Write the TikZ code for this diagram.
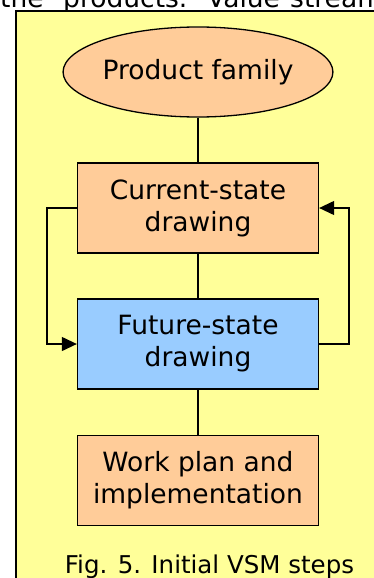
\documentclass[tikz,border=0pt]{standalone}
\usepackage{fontspec}
\setmainfont{DejaVu Sans}
\usetikzlibrary{arrows.meta,shapes.geometric}
\definecolor{panelyellow}{HTML}{FFFF99}
\definecolor{steporange}{HTML}{FFCC99}
\definecolor{stepblue}{HTML}{99CCFF}
\tikzset{
  stepbox/.style={draw=black, line width=1.3pt, fill=steporange,
    minimum width=241pt, minimum height=90pt, inner sep=0pt,
    align=center, font=\fontsize{26.5}{32}\selectfont},
  familyshape/.style={stepbox, ellipse, minimum width=242pt, minimum height=90pt},
  link/.style={draw=black, line width=1.2pt},
  loop/.style={link, -{Triangle[length=15pt,width=14pt]}},
  bodytext/.style={inner sep=0pt, font=\fontsize{26.5}{32}\selectfont},
}
\begin{document}
\begin{tikzpicture}[x=1pt,y=1pt]
  \useasboundingbox (0,0) rectangle (374,-578);
  \clip (0,0) rectangle (374,-578);
  % running text above the panel
  \node[bodytext, anchor=base west] (w1) at (0,-8) {the};
  \node[bodytext, anchor=base west] (w2) at (63,-8) {products.};
  \node[bodytext, anchor=base west] (w3) at (207,-8) {Value};
  \node[bodytext, anchor=base west] (w4) at (290,-8) {stream};
  % panel
  \draw[fill=panelyellow, line width=1.3pt] (16,-590) rectangle (390,-11);
  % steps
  \node[familyshape] (family) at (198,-72) {Product family};
  \node[stepbox] (current) at (198,-208) {Current-state\\drawing};
  \node[stepbox, fill=stepblue] (future) at (198,-344) {Future-state\\drawing};
  \node[stepbox] (work) at (198,-480.5) {Work plan and\\implementation};
  \coordinate (lt) at (47,-208);
  \coordinate (lb) at (47,-344);
  \coordinate (rt) at (349,-208);
  \coordinate (rb) at (349,-344);
  \draw[link] (family) -- (current);
  \draw[link] (current) -- (future);
  \draw[link] (future) -- (work);
  \draw[loop] (current.west) -- (lt) -- (lb) -- (future.west);
  \draw[loop] (future.east) -- (rb) -- (rt) -- (current.east);
  % caption
  \node[inner sep=0pt, anchor=base, font=\fontsize{24.5}{29}\selectfont] (caption) at (209.5,-573) {Fig. 5. Initial VSM steps};
\end{tikzpicture}
\end{document}
